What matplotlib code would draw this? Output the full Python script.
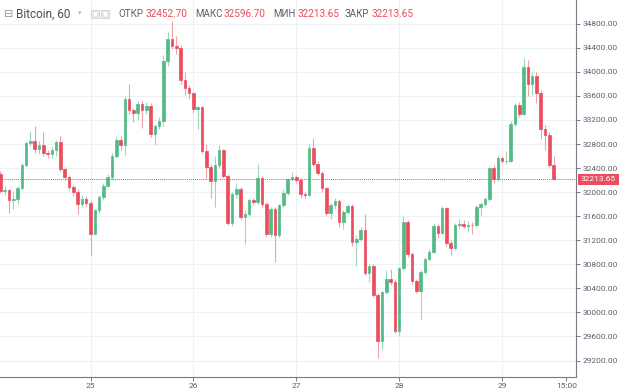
import numpy as np
import matplotlib
matplotlib.use("Agg")
import matplotlib.pyplot as plt
from matplotlib.patches import Rectangle

# ---------------- data (hourly BTC candles, hour 0 = day 25 00:00) ----------------
first_hour = -21
opens = [32300, 32020, 32040, 31865, 31880, 32075, 32452, 32812, 32851, 32712,
         32790, 32646, 32629, 32696, 32834, 32380, 32258, 32086, 32003, 31809,
         31893, 31826, 31311, 31704, 31920, 32103, 32258, 32602, 32870, 32790,
         33540, 33360, 33320, 33470, 33360, 33440, 32970, 33100, 33177, 34174,
         34550, 34430, 34400, 33858, 33730, 33640, 33390, 33415, 32680, 32412,
         32193, 32446, 32695, 32268, 31493, 31975, 32058, 31587, 31642, 31864,
         31836, 32235, 31808, 31310, 31725, 31282, 31781, 31991, 32213, 32252,
         32196, 31964, 31960, 32734, 32473, 32324, 32063, 31659, 31780, 31860,
         31504, 31670, 31775, 31170, 31221, 31376, 30656, 30767, 30296, 29531,
         30336, 30557, 30500, 29699, 30735, 31510, 30974, 30530, 30364, 30680,
         30890, 31013, 31440, 31328, 31734, 31160, 31070, 31447, 31475, 31436,
         31458, 31447, 31752, 31807, 31890, 32400, 32223, 32566, 32511, 32525,
         33137, 33441, 33303, 34079, 33802, 33929, 33652, 33054, 32954, 32452.70]
highs = [32350, 32110, 32060, 32020, 32110, 32480, 32850, 33017, 33100, 32850,
         32999, 32700, 32750, 32870, 32934, 32420, 32290, 32120, 32050, 31950,
         31930, 31870, 31720, 31960, 32150, 32300, 32650, 32920, 32930, 33600,
         33800, 33400, 33520, 33520, 33500, 33480, 33130, 33250, 34280, 34660,
         34850, 34600, 34450, 34000, 33780, 33670, 33440, 33430, 32800, 32460,
         32600, 32780, 32720, 32300, 32000, 32150, 32080, 31700, 31900, 31900,
         32470, 32260, 31830, 31760, 31760, 31800, 32050, 32240, 32330, 32290,
         32230, 32000, 32800, 32894, 32520, 32350, 32090, 31820, 31900, 31880,
         31700, 31800, 31800, 31280, 31420, 31640, 30800, 30800, 30330, 30360,
         30700, 30720, 30560, 30760, 31600, 31540, 31000, 30560, 30700, 30920,
         31050, 31480, 31470, 31770, 31760, 31200, 31480, 31560, 31530, 31520,
         31500, 31780, 31840, 31920, 32420, 32450, 32620, 32600, 32680, 33180,
         33480, 33500, 34230, 34190, 34000, 34000, 33700, 33110, 33000, 32596.70]
lows = [31990, 31950, 31660, 31720, 31800, 32040, 32420, 32770, 32650, 32640,
        32600, 32560, 32570, 32600, 32350, 32200, 32040, 31940, 31643, 31750,
        31770, 30960, 31280, 31650, 31870, 32080, 32200, 32560, 32700, 32620,
        33300, 33170, 33200, 33060, 33300, 32920, 32780, 33050, 33100, 34100,
        34380, 34300, 33800, 33620, 33550, 33320, 33050, 32650, 32230, 31900,
        31750, 32400, 32230, 31450, 31430, 31900, 31540, 31140, 31600, 31780,
        31800, 31760, 31250, 31250, 30840, 31250, 31750, 31950, 32180, 32150,
        31900, 31900, 31940, 32440, 32280, 32000, 31600, 31560, 31720, 31420,
        31380, 31630, 31100, 30778, 31180, 30620, 30500, 30250, 29240, 29396,
        30300, 30460, 29650, 29620, 30700, 30920, 30480, 30330, 29867, 30640,
        30850, 30980, 31240, 31300, 31100, 30950, 31030, 31380, 31400, 31350,
        31300, 31420, 31600, 31750, 31850, 32150, 32180, 32480, 32470, 32500,
        33100, 33250, 33280, 33600, 33620, 33480, 32880, 32700, 32420, 32213.65]
closes = [32020, 32040, 31865, 31880, 32075, 32452, 32812, 32851, 32712, 32790,
          32646, 32629, 32696, 32834, 32380, 32258, 32086, 32003, 31809, 31893,
          31826, 31311, 31704, 31920, 32103, 32258, 32602, 32870, 32790, 33540,
          33360, 33320, 33470, 33360, 33440, 32970, 33100, 33177, 34174, 34550,
          34430, 34400, 33858, 33730, 33640, 33390, 33415, 32680, 32412, 32193,
          32446, 32695, 32268, 31493, 31975, 32058, 31587, 31642, 31864, 31836,
          32235, 31808, 31310, 31725, 31282, 31781, 31991, 32213, 32252, 32196,
          31964, 31960, 32734, 32473, 32324, 32063, 31659, 31780, 31860, 31504,
          31670, 31775, 31170, 31221, 31376, 30656, 30767, 30296, 29531, 30336,
          30557, 30500, 29699, 30735, 31510, 30974, 30530, 30364, 30680, 30890,
          31013, 31440, 31328, 31734, 31160, 31070, 31458, 31475, 31436, 31458,
          31447, 31752, 31807, 31890, 32400, 32223, 32566, 32511, 32525, 33137,
          33441, 33303, 34079, 33802, 33929, 33652, 33054, 32954, 32452.70, 32213.65]

x_ticks = [0, 24, 48, 72, 96, 111]
x_labels = ["25", "26", "27", "28", "29", "15:00"]
y_ticks = [29200, 29600, 30000, 30400, 30800, 31200, 31600, 32000,
           32400, 32800, 33200, 33600, 34000, 34400, 34800]
symbol = "Bitcoin, 60"
ohlc_names = ["ОТКР", "МАКС", "МИН", "ЗАКР"]
ohlc_values = ["32452.70", "32596.70", "32213.65", "32213.65"]
last_price = 32213.65

# ---------------- styling ----------------
GREEN = "#53b987"
RED = "#eb4d5c"
GREEN_W = "#9ed6bb"
RED_W = "#f3a1a9"
GRID = "#eef1f4"
TXT = "#5d606b"
plt.rcParams["font.family"] = ["Roboto", "DejaVu Sans"]

W, H = 620, 391
fig = plt.figure(figsize=(W / 100, H / 100), dpi=100)
fig.patch.set_facecolor("white")
ax = fig.add_axes([0, 14.5 / H, 576 / W, (H - 14.5) / H])
ax.set_facecolor("white")

o = np.array(opens, float)
c = np.array(closes, float)
hi = np.array(highs, float)
lo = np.array(lows, float)
hrs = np.arange(first_hour, first_hour + len(o))
up = c >= o
body_col = np.where(up, GREEN, RED)
wick_col = np.where(up, GREEN_W, RED_W)

# grid
for yt in y_ticks:
    ax.axhline(yt, color=GRID, lw=0.8, zorder=0)
for xt in x_ticks[:-1]:
    ax.axvline(xt, color=GRID, lw=0.8, zorder=0)

ax.vlines(hrs, lo, hi, colors=wick_col, lw=0.8, zorder=2)
ax.bar(hrs, np.abs(c - o), bottom=np.minimum(o, c), width=0.6,
       color=body_col, edgecolor=body_col, linewidth=0.5, zorder=3)

# last price line + label
ax.axhline(last_price, color=RED, lw=0.7, ls=(0, (1, 1)), zorder=4)
ax.annotate(f"{last_price:.2f}", xy=(1.0, last_price),
            xycoords=("axes fraction", "data"), xytext=(3.5, 0),
            textcoords="offset points", ha="left", va="center",
            fontsize=6, color="white", annotation_clip=False,
            bbox=dict(boxstyle="square,pad=0.32", fc=RED, ec="none"))

ax.set_xlim(-90.5 / 4.2875, (576 - 90.5) / 4.2875)
ax.set_ylim(28935, 35194)

ax.yaxis.tick_right()
ax.set_yticks(y_ticks)
ax.set_yticklabels([f"{v:.2f}" for v in y_ticks])
ax.set_xticks(x_ticks)
ax.set_xticklabels(x_labels)
ax.tick_params(axis="y", length=3, width=0.7, color="#787b86", labelsize=6,
               labelcolor=TXT, pad=1.5)
ax.tick_params(axis="x", length=3, width=0.7, color="#787b86", labelsize=6,
               labelcolor=TXT, pad=1.5)
for s in ("left", "top"):
    ax.spines[s].set_visible(False)
for s in ("right", "bottom"):
    ax.spines[s].set_color("#787b86")
    ax.spines[s].set_linewidth(0.8)

# header legend
def px(x, y):
    return x / W, 1 - y / H

yh = 14
fig.text(*px(4, yh), "⊟", fontsize=8, color="#9598a1", va="center", ha="left",
         family=["DejaVu Sans"])
fig.text(*px(16, yh), symbol, fontsize=8.5, color="#4a4c53", va="center", ha="left")
fig.text(*px(78, yh - 1), "▾", fontsize=5, color="#b2b5be", va="center", ha="left",
         family=["DejaVu Sans"])
for x0 in (91, 101):
    fig.patches.append(Rectangle(px(x0, yh + 4), 8 / W, 8 / H, transform=fig.transFigure,
                                 fc="#e6e7ea", ec="#cfd1d6", lw=0.6))
    fig.patches.append(Rectangle(px(x0 + 2.5, yh + 1.5), 3 / W, 3 / H,
                                 transform=fig.transFigure, fc="white", ec="none"))
name_x = [118, 195, 273, 345]
val_x = [146, 223, 297, 372]
for nx, vx, nm, vl in zip(name_x, val_x, ohlc_names, ohlc_values):
    fig.text(*px(nx, yh), nm, fontsize=7, color="#5d606b", va="center", ha="left")
    fig.text(*px(vx, yh), vl, fontsize=7.2, color=RED, va="center", ha="left")

fig.savefig("out.png", dpi=100, facecolor="white")
